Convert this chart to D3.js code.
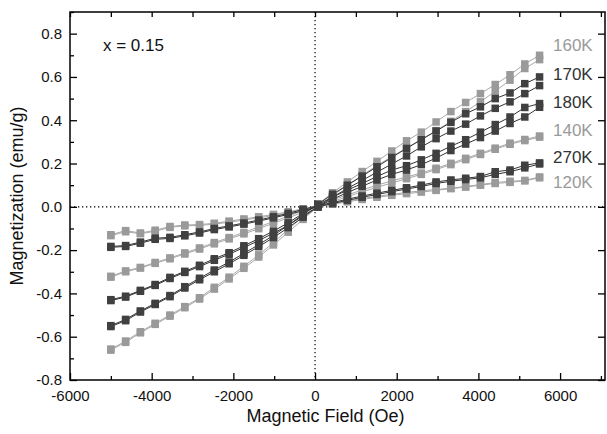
<!DOCTYPE html>
<html><head><meta charset="utf-8">
<script src="https://cdn.jsdelivr.net/npm/d3@7"></script>
<style>body{margin:0;background:#fff}svg{display:block;font-family:"Liberation Sans",Arial,Helvetica,sans-serif}</style>
</head><body><svg id="c" width="607" height="434"></svg>
<script>
// ---- data ----
const fields = [-5000,-4638,-4276,-3914,-3552,-3190,-2828,-2466,-2104,-1742,-1380,-1018,-656,-294,68,430,792,1154,1516,1878,2240,2602,2964,3326,3688,4050,4412,4774,5136,5498];
const xTicksMajor = [-6000,-4000,-2000,0,2000,4000,6000];
const xTicksMinor = [-5000,-3000,-1000,1000,3000,5000,7000];
const yTicksMajor = [-0.8,-0.6,-0.4,-0.2,0.0,0.2,0.4,0.6,0.8];
const yTicksMinor = [-0.7,-0.5,-0.3,-0.1,0.1,0.3,0.5,0.7,0.9];
const labels = ["160K","170K","180K","140K","270K","120K"];

const m160a = [-0.657,-0.620,-0.577,-0.538,-0.500,-0.461,-0.420,-0.372,-0.325,-0.275,-0.222,-0.165,-0.105,-0.045,0.012,0.065,0.115,0.163,0.210,0.258,0.305,0.345,0.392,0.440,0.482,0.523,0.565,0.610,0.660,0.700];
const m160b = [-0.662,-0.626,-0.582,-0.543,-0.505,-0.466,-0.426,-0.380,-0.333,-0.284,-0.232,-0.176,-0.117,-0.058,0.000,0.052,0.100,0.146,0.190,0.232,0.272,0.312,0.352,0.395,0.440,0.485,0.534,0.585,0.639,0.680];
const m170a = [-0.549,-0.520,-0.481,-0.446,-0.410,-0.369,-0.330,-0.292,-0.255,-0.215,-0.175,-0.132,-0.085,-0.035,0.012,0.058,0.100,0.142,0.185,0.228,0.270,0.310,0.350,0.390,0.430,0.462,0.500,0.526,0.569,0.600];
const m170b = [-0.553,-0.526,-0.486,-0.451,-0.415,-0.375,-0.337,-0.300,-0.263,-0.224,-0.184,-0.142,-0.096,-0.048,0.000,0.045,0.085,0.122,0.160,0.198,0.235,0.277,0.315,0.350,0.382,0.420,0.455,0.485,0.523,0.560];
const m180a = [-0.429,-0.413,-0.386,-0.359,-0.326,-0.298,-0.270,-0.240,-0.212,-0.180,-0.147,-0.112,-0.074,-0.030,0.010,0.045,0.077,0.108,0.140,0.170,0.190,0.217,0.247,0.280,0.310,0.345,0.380,0.415,0.459,0.477];
const m180b = [-0.433,-0.417,-0.390,-0.363,-0.331,-0.303,-0.276,-0.247,-0.219,-0.188,-0.156,-0.122,-0.085,-0.042,0.000,0.035,0.066,0.095,0.124,0.150,0.170,0.195,0.225,0.260,0.290,0.320,0.350,0.385,0.415,0.460];
const m140a = [-0.321,-0.296,-0.280,-0.257,-0.236,-0.213,-0.190,-0.165,-0.142,-0.118,-0.093,-0.068,-0.043,-0.017,0.008,0.032,0.055,0.078,0.100,0.120,0.138,0.156,0.178,0.201,0.224,0.247,0.271,0.294,0.311,0.327];
const m140b = [-0.325,-0.300,-0.283,-0.261,-0.240,-0.218,-0.195,-0.171,-0.148,-0.125,-0.101,-0.076,-0.051,-0.025,0.000,0.024,0.047,0.069,0.090,0.110,0.130,0.150,0.172,0.195,0.218,0.242,0.266,0.289,0.306,0.322];
const m270a = [-0.183,-0.179,-0.163,-0.145,-0.141,-0.129,-0.116,-0.100,-0.088,-0.075,-0.061,-0.046,-0.030,-0.012,0.005,0.020,0.035,0.050,0.063,0.076,0.088,0.100,0.115,0.124,0.132,0.140,0.162,0.170,0.192,0.203];
const m270b = [-0.187,-0.183,-0.168,-0.150,-0.146,-0.134,-0.121,-0.105,-0.093,-0.080,-0.066,-0.051,-0.035,-0.018,0.000,0.015,0.030,0.044,0.057,0.070,0.082,0.094,0.108,0.118,0.126,0.134,0.150,0.162,0.180,0.198];
const m120a = [-0.129,-0.110,-0.121,-0.108,-0.091,-0.084,-0.082,-0.076,-0.066,-0.056,-0.046,-0.035,-0.023,-0.009,0.004,0.016,0.027,0.038,0.048,0.058,0.066,0.074,0.080,0.086,0.094,0.103,0.112,0.118,0.122,0.138];
const m120b = [-0.133,-0.115,-0.124,-0.113,-0.095,-0.088,-0.086,-0.080,-0.071,-0.061,-0.051,-0.040,-0.028,-0.014,0.000,0.012,0.023,0.034,0.044,0.053,0.061,0.068,0.076,0.084,0.091,0.100,0.108,0.113,0.120,0.134];

// ---- layout / style ----
const LIGHT = "#9a9a9a", DARK = "#404040";
const seriesDefs = [
  {name:"160K", a:m160a, b:m160b, c:LIGHT, lc:"#a8a8a8"},
  {name:"140K", a:m140a, b:m140b, c:LIGHT, lc:"#a8a8a8"},
  {name:"120K", a:m120a, b:m120b, c:LIGHT, lc:"#a8a8a8"},
  {name:"170K", a:m170a, b:m170b, c:DARK, lc:"#333"},
  {name:"180K", a:m180a, b:m180b, c:DARK, lc:"#333"},
  {name:"270K", a:m270a, b:m270b, c:DARK, lc:"#333"}
];
const labelPos = {"160K":[553,51,LIGHT],"170K":[553,80,"#333"],"180K":[553,108,"#333"],"140K":[553,136,LIGHT],"270K":[553,163,"#333"],"120K":[553,188,LIGHT]};

const L=70, R=605, T=12, B=380;
const x = d3.scaleLinear().domain([-6000,7100]).range([L,R]);
const y = d3.scaleLinear().domain([-0.8,0.9]).range([B,T]);
const svg = d3.select("#c");
const fmtY = d => d3.format(".1f")(d).replace("−","-");
const fmtX = d => String(d);

// dotted zero lines
svg.append("line").attr("x1",x(0)).attr("x2",x(0)).attr("y1",T).attr("y2",B)
  .attr("stroke","#000").attr("stroke-width",1.2).attr("stroke-dasharray","1.3,2.7");
svg.append("line").attr("x1",L).attr("x2",R).attr("y1",y(0)).attr("y2",y(0))
  .attr("stroke","#000").attr("stroke-width",1.2).attr("stroke-dasharray","1.3,2.7");

// series
const line = d3.line().x((d,i)=>x(fields[i])).y(d=>y(d));
const S = 7.5;
seriesDefs.forEach(s=>{
  const g = svg.append("g");
  [s.a, s.b].forEach(arr=>{
    g.append("path").attr("d", line(arr)).attr("fill","none").attr("stroke",s.lc).attr("stroke-width",1);
  });
  [s.a, s.b].forEach(arr=>{
    g.selectAll(null).data(arr).enter().append("rect")
      .attr("x",(d,i)=>x(fields[i])-S/2).attr("y",d=>y(d)-S/2)
      .attr("width",S).attr("height",S).attr("fill",s.c);
  });
});

// axes
function style(g){ g.select(".domain").remove(); g.selectAll("line").attr("stroke","#000").attr("stroke-width",1.3); g.selectAll("text").attr("fill","#111").attr("font-size",15).attr("font-family","'Liberation Sans',Arial,sans-serif"); }
svg.append("g").attr("transform",`translate(0,${B})`)
  .call(d3.axisBottom(x).tickValues(xTicksMajor).tickSize(-7).tickPadding(10).tickFormat(fmtX)).call(style);
svg.append("g").attr("transform",`translate(0,${B})`)
  .call(d3.axisBottom(x).tickValues(xTicksMinor.filter(v=>v<7100)).tickSize(-4).tickFormat("")).call(style);
svg.append("g").attr("transform",`translate(0,${T})`)
  .call(d3.axisTop(x).tickValues(xTicksMajor.concat(xTicksMinor).filter(v=>v<7100)).tickSize(-5).tickFormat("")).call(style);
svg.append("g").attr("transform",`translate(${L},0)`)
  .call(d3.axisLeft(y).tickValues(yTicksMajor).tickSize(-7).tickPadding(8).tickFormat(fmtY)).call(style);
svg.append("g").attr("transform",`translate(${L},0)`)
  .call(d3.axisLeft(y).tickValues(yTicksMinor).tickSize(-4).tickFormat("")).call(style);
svg.append("g").attr("transform",`translate(${R},0)`)
  .call(d3.axisRight(y).tickValues(yTicksMajor).tickSize(-7).tickFormat("")).call(style);

// frame
svg.append("rect").attr("x",L).attr("y",T).attr("width",R-L).attr("height",B-T)
  .attr("fill","none").attr("stroke","#000").attr("stroke-width",1.5);

// labels
labels.forEach(n=>{
  const p = labelPos[n];
  svg.append("text").attr("x",p[0]).attr("y",p[1]).attr("fill",p[2]).attr("font-size",17).text(n);
});
svg.append("text").attr("x",103).attr("y",51).attr("font-size",17).attr("fill","#111").text("x = 0.15");
svg.append("text").attr("x",(L+R)/2-12).attr("y",422).attr("text-anchor","middle").attr("font-size",18).attr("fill","#111").text("Magnetic Field (Oe)");
svg.append("text").attr("transform","translate(23,196) rotate(-90)").attr("text-anchor","middle").attr("font-size",18).attr("fill","#111").text("Magnetization (emu/g)");
</script></body></html>
